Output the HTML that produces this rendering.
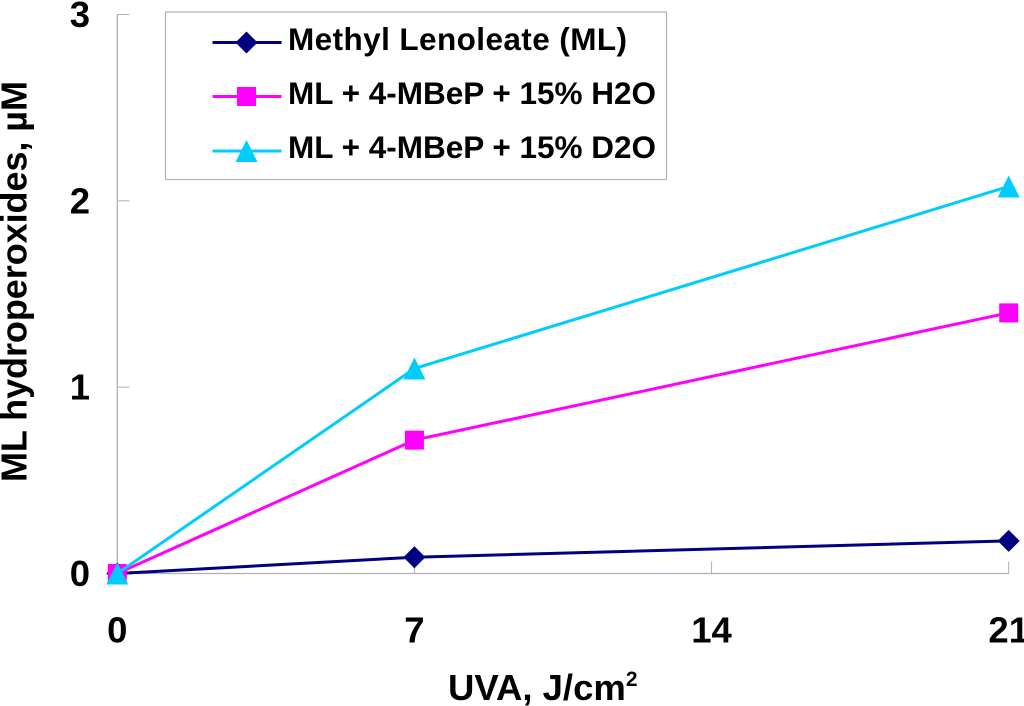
<!DOCTYPE html>
<html>
<head>
<meta charset="utf-8">
<title>ML hydroperoxides vs UVA</title>
<style>
html,body{margin:0;padding:0;background:#fff;width:1024px;height:706px;overflow:hidden}
svg{display:block}
text{font-family:"Liberation Sans",Arial,sans-serif;font-weight:bold;fill:#000}
</style>
</head>
<body>
<svg id="chart" width="1024" height="706" viewBox="0 0 1024 706" xmlns="http://www.w3.org/2000/svg">
  <g id="axes"></g>
  <g id="series"></g>
  <text transform="translate(26.5,482) rotate(-90)" font-size="36" textLength="401" lengthAdjust="spacing">ML hydroperoxides, µM</text>
  <text x="448" y="700" font-size="36.5">UVA, J/cm<tspan font-size="21" dy="-14">2</tspan></text>
  <g>
    <rect x="165.5" y="12" width="501" height="167.5" fill="#fff" stroke="#b3b3b3" stroke-width="1.2"/>
    <g id="legend-keys"></g>
    <text x="288" y="50" font-size="31.5" textLength="339" lengthAdjust="spacing">Methyl Lenoleate (ML)</text>
    <text x="288" y="104" font-size="31.5" textLength="368" lengthAdjust="spacing">ML + 4-MBeP + 15% H2O</text>
    <text x="288" y="158" font-size="31.5" textLength="368" lengthAdjust="spacing">ML + 4-MBeP + 15% D2O</text>
  </g>
</svg>
<script>
const xCategories = [0, 7, 21];
const xTickLabels = [0, 7, 14, 21];
const yTickLabels = [0, 1, 2, 3];
const mlValues = [0, 0.0875, 0.175];
const h2oValues = [0, 0.716, 1.399];
const d2oValues = [0, 1.1, 2.077];

const NS = 'http://www.w3.org/2000/svg';
const xScale = v => 117.3 + v * (1008.7 - 117.3) / 21;
const yScale = v => 573.5 - v * (573.5 - 14.5) / 3;

function make(tag, attrs, parent) {
  const el = document.createElementNS(NS, tag);
  for (const k in attrs) el.setAttribute(k, attrs[k]);
  parent.appendChild(el);
  return el;
}
function marker(kind, cx, cy, color, parent) {
  if (kind === 'diamond') {
    return make('polygon', {points: `${cx},${cy-11} ${cx+11},${cy} ${cx},${cy+11} ${cx-11},${cy}`, fill: color}, parent);
  }
  if (kind === 'square') {
    return make('rect', {x: cx-9.5, y: cy-9.5, width: 19, height: 19, fill: color, rx: 0.5}, parent);
  }
  return make('polygon', {points: `${cx},${cy-11} ${cx+11},${cy+11} ${cx-11},${cy+11}`, fill: color}, parent);
}

const axes = document.getElementById('axes');
const axisColor = '#b0b0b0';
const yAxisLine = make('line', {x1: xScale(0), y1: yScale(3), x2: xScale(0), y2: yScale(0), stroke: axisColor, 'stroke-width': 1.3}, axes);


const xAxisLine = make('line', {x1: xScale(0), y1: yScale(0), x2: xScale(21), y2: yScale(0), stroke: axisColor, 'stroke-width': 1.3}, axes);



yTickLabels.forEach(v => {
  const tick = make('line', {x1: xScale(0), y1: yScale(v), x2: xScale(0) + 12, y2: yScale(v), stroke: axisColor, 'stroke-width': 1}, axes);
  
  
  const label = make('text', {x: 90, y: yScale(v) + 12.5, 'font-size': 36.5, 'text-anchor': 'end'}, axes);
  
  
  label.textContent = v;
});
xTickLabels.forEach(v => {
  const tick = make('line', {x1: xScale(v), y1: yScale(0), x2: xScale(v), y2: yScale(0) - 12, stroke: axisColor, 'stroke-width': 1}, axes);
  
  
  const label = make('text', {x: xScale(v), y: 642.5, 'font-size': 36.5, 'text-anchor': 'middle'}, axes);
  
  
  label.textContent = v;
});

const seriesGroup = document.getElementById('series');
function drawSeries(values, color, kind, name, lineWidth) {
  const g = make('g', {}, seriesGroup);
  
  
  const pts = values.map((v, i) => xScale(xCategories[i]) + ',' + yScale(v)).join(' ');
  const line = make('polyline', {points: pts, fill: 'none', stroke: color, 'stroke-width': lineWidth}, g);
  
  
  values.forEach((v, i) => {
    const m = marker(kind, xScale(xCategories[i]), yScale(v), color, g);
    
    
  });
}
drawSeries(mlValues, '#000080', 'diamond', 'series-ml', 3);
drawSeries(h2oValues, '#ff00ff', 'square', 'series-h2o', 3);
drawSeries(d2oValues, '#00ccff', 'triangle', 'series-d2o', 3);

const keys = document.getElementById('legend-keys');
function drawKey(y, color, kind, name) {
  const line = make('line', {x1: 212.5, y1: y, x2: 281.5, y2: y, stroke: color, 'stroke-width': 3}, keys);
  
  
  const m = marker(kind, 246.5, y, color, keys);
  
  
}
drawKey(42.5, '#000080', 'diamond', 'legend-key-ml');
drawKey(96.5, '#ff00ff', 'square', 'legend-key-h2o');
drawKey(151, '#00ccff', 'triangle', 'legend-key-d2o');
</script>
</body>
</html>
